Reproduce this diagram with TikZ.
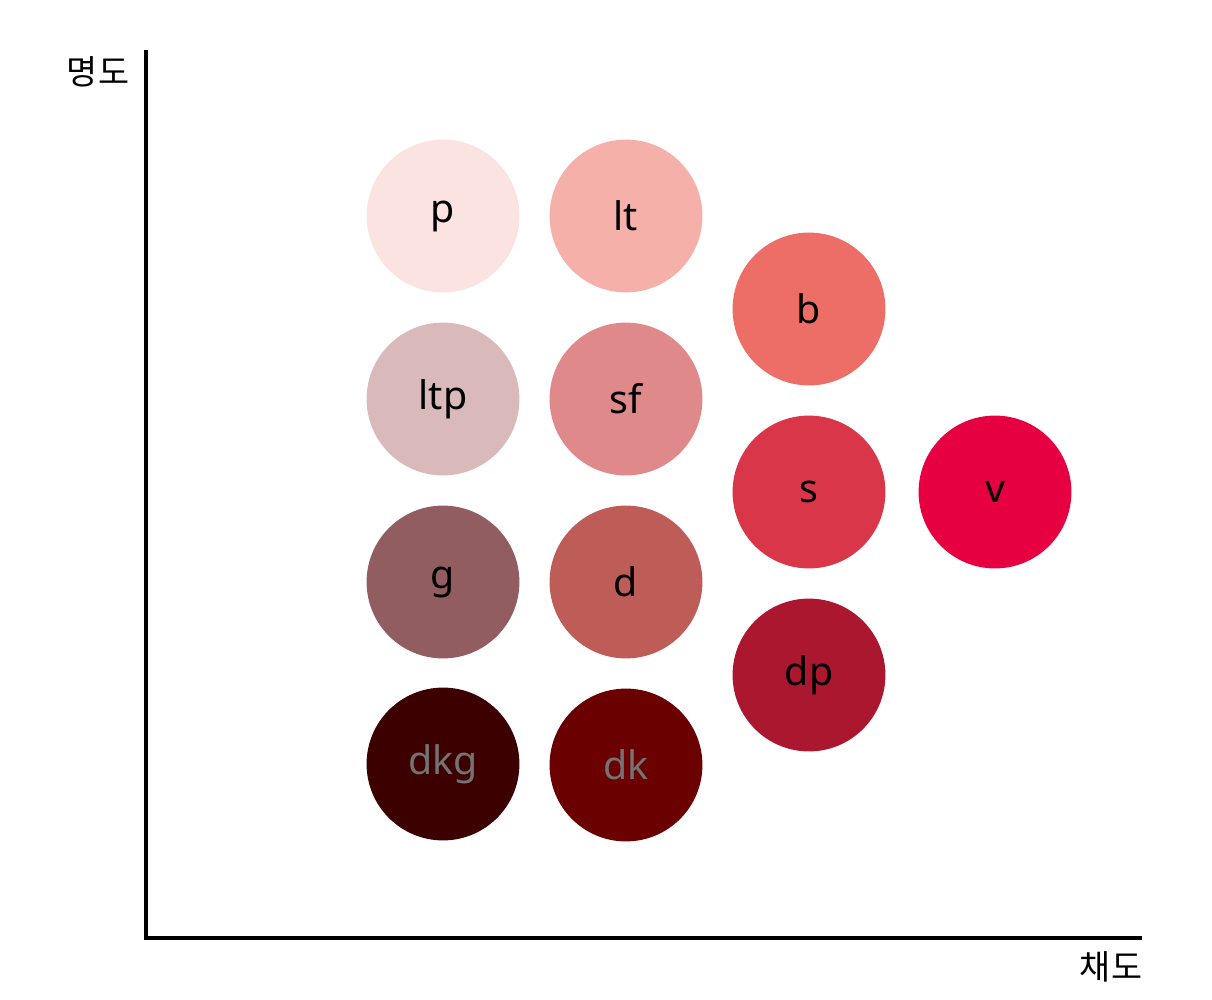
\documentclass[tikz,border=0pt]{standalone}
\usepackage{fontspec}
\setmainfont{Noto Sans}
\newfontfamily\krfont{Noto Sans CJK KR}
\usepackage{tikz}
\usetikzlibrary{positioning}

\definecolor{pcol}{HTML}{FBE3E1}
\definecolor{ltcol}{HTML}{F5B0AA}
\definecolor{bcol}{HTML}{EC6E66}
\definecolor{ltpcol}{HTML}{D9B9B9}
\definecolor{sfcol}{HTML}{E0898A}
\definecolor{scol}{HTML}{D9364A}
\definecolor{vcol}{HTML}{E60042}
\definecolor{gcol}{HTML}{925D61}
\definecolor{dcol}{HTML}{BE5C57}
\definecolor{dpcol}{HTML}{AB172F}
\definecolor{dkgcol}{HTML}{3C0000}
\definecolor{dkcol}{HTML}{6A0000}

\begin{document}
\begin{tikzpicture}[
    x=0.025cm, y=-0.025cm,
    tone/.style={circle, fill=#1, minimum size=3.82cm, inner sep=0pt, text centered, font=\fontsize{28}{30}\selectfont},
    darktone/.style={tone=#1, text=black!55},
    axislabel/.style={font=\krfont\fontsize{24}{26}\selectfont}
]
\useasboundingbox (0,0) rectangle (1212,1000);

% Axes
\coordinate (origin) at (146,938);
\coordinate (ytop) at (146,50);
\coordinate (xend) at (1142,938);
\draw[line width=2.4pt] (ytop) -- (origin) -- (xend);
\node[axislabel] (ylabel) at (98,72) {명도};
\node[axislabel] (xlabel) at (1111,967) {채도};

% Tone circles, first column
\node[tone=pcol] (p) at (443,216) {p};
\node[tone=ltpcol] (ltp) at (443,399) {ltp};
\node[tone=gcol] (g) at (443,582) {g};
\node[darktone=dkgcol] (dkg) at (443,764) {dkg};

% Second column
\node[tone=ltcol] (lt) at (626,216) {lt};
\node[tone=sfcol] (sf) at (626,399) {sf};
\node[tone=dcol] (d) at (626,582) {d};
\node[darktone=dkcol] (dk) at (626,765) {dk};

% Third column
\node[tone=bcol] (b) at (809,309) {b};
\node[tone=scol] (s) at (809,492) {s};
\node[tone=dpcol] (dp) at (809,675) {dp};

% Vivid
\node[tone=vcol] (v) at (995,492) {v};

\end{tikzpicture}
\end{document}
